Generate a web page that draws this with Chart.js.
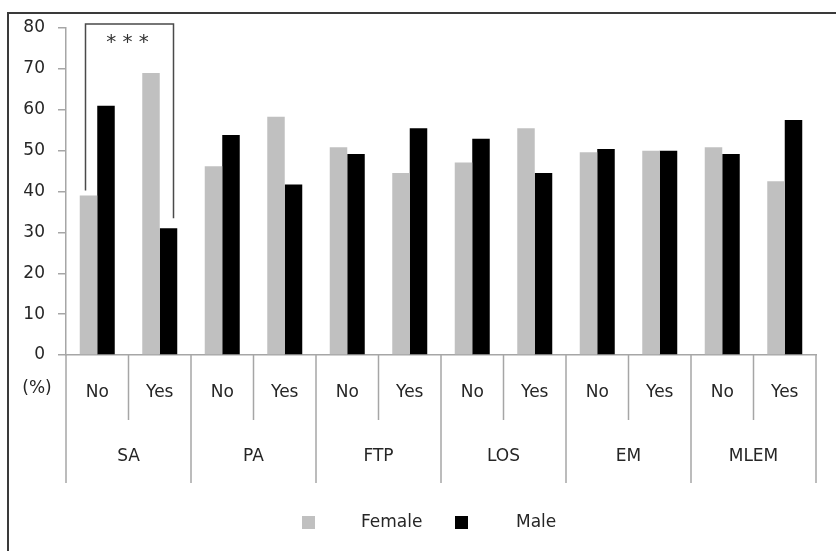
<!DOCTYPE html>
<html>
<head>
<meta charset="utf-8">
<script src="https://cdn.jsdelivr.net/npm/chart.js@4.4.1/dist/chart.umd.min.js"></script>
<style>
  html, body { margin: 0; padding: 0; background: #fff; overflow: hidden; }
  #wrap { position: relative; width: 836px; height: 551px; }
</style>
</head>
<body>
<div id="wrap"><canvas id="c" width="836" height="551"></canvas></div>
<script>
// Factor groups and the answer under each group
const groups = ['SA', 'PA', 'FTP', 'LOS', 'EM', 'MLEM'];
const categories = ['No', 'Yes', 'No', 'Yes', 'No', 'Yes', 'No', 'Yes', 'No', 'Yes', 'No', 'Yes'];

// Share of each sex within every answer (%)
const female = [39.0, 69.0, 46.2, 58.3, 50.8, 44.5, 47.1, 55.5, 49.6, 50.0, 50.8, 42.5];
const male   = [61.0, 31.0, 53.8, 41.7, 49.2, 55.5, 52.9, 44.5, 50.4, 50.0, 49.2, 57.5];

const yTicks = [0, 10, 20, 30, 40, 50, 60, 70, 80];
const seriesNames = ['Female', 'Male'];
const significance = '* * *';

const FONT = 'DejaVu Sans';
const TEXT = '#262626';
const AXIS = '#a6a6a6';

const decor = {
  id: 'decor',
  beforeDraw(chart) {
    const ctx = chart.ctx;
    ctx.save();
    // outer frame
    ctx.strokeStyle = '#3a3a3a';
    ctx.lineWidth = 2;
    ctx.beginPath();
    ctx.moveTo(8, 560);
    ctx.lineTo(8, 13);
    ctx.lineTo(850, 13);
    ctx.stroke();
    ctx.restore();
  },
  afterDraw(chart) {
    const ctx = chart.ctx;
    const xs = chart.scales.x;
    const ys = chart.scales.y;
    const base = ys.getPixelForValue(0);
    const half = (xs.getPixelForValue(1) - xs.getPixelForValue(0)) / 2;
    ctx.save();

    // category separators below the axis
    ctx.strokeStyle = AXIS;
    ctx.lineWidth = 1.5;
    for (let i = 0; i <= categories.length; i++) {
      const x = xs.getPixelForValue(0) - half + i * 2 * half;
      const len = (i % 2 === 0) ? 128 : 65;
      ctx.beginPath();
      ctx.moveTo(x, base);
      ctx.lineTo(x, base + len);
      ctx.stroke();
    }

    // group names
    ctx.fillStyle = TEXT;
    ctx.font = '17px "' + FONT + '"';
    ctx.textAlign = 'center';
    ctx.textBaseline = 'middle';
    groups.forEach((g, k) => {
      const x = (xs.getPixelForValue(2 * k) + xs.getPixelForValue(2 * k + 1)) / 2;
      ctx.fillText(g, x, base + 102);
    });

    // unit label
    ctx.fillText('(%)', 37, base + 34);

    // significance bracket over the first group
    const fBar = chart.getDatasetMeta(0).data[0];
    const mBar = chart.getDatasetMeta(1).data[1];
    const top = chart.chartArea.top - 4;
    const xl = fBar.x - 3;
    const xr = mBar.x + 5;
    ctx.strokeStyle = '#4a4a4a';
    ctx.lineWidth = 1.5;
    ctx.beginPath();
    ctx.moveTo(xl, fBar.y - 5);
    ctx.lineTo(xl, top);
    ctx.lineTo(xr, top);
    ctx.lineTo(xr, mBar.y - 10);
    ctx.stroke();
    ctx.font = '20px "' + FONT + '"';
    ctx.fillStyle = '#333';
    ctx.fillText(significance, (xl + xr) / 2 - 2, top + 19);

    // legend
    const ds = chart.data.datasets;
    const entries = [{ box: 302, text: 361 }, { box: 455, text: 516 }];
    ctx.font = '17px "' + FONT + '"';
    ctx.textAlign = 'left';
    entries.forEach((e, i) => {
      ctx.fillStyle = ds[i].backgroundColor;
      ctx.fillRect(e.box, 516, 13, 13);
      ctx.fillStyle = TEXT;
      ctx.fillText(seriesNames[i], e.text, 523);
    });
    ctx.restore();
  }
};

new Chart(document.getElementById('c'), {
  type: 'bar',
  data: {
    labels: categories,
    datasets: [
      { label: seriesNames[0], data: female, backgroundColor: '#c0c0c0', borderWidth: 0 },
      { label: seriesNames[1], data: male, backgroundColor: '#000000', borderWidth: 0 }
    ]
  },
  options: {
    responsive: false,
    animation: false,
    devicePixelRatio: 1,
    layout: { padding: { top: 28, right: 20, bottom: 0, left: 0 } },
    datasets: { bar: { categoryPercentage: 0.56, barPercentage: 1.0 } },
    plugins: { legend: { display: false }, tooltip: { enabled: false } },
    scales: {
      x: {
        type: 'category',
        offset: true,
        grid: { display: false, drawTicks: false, tickLength: 0 },
        border: { display: true, color: AXIS, width: 1.5 },
        ticks: { color: TEXT, font: { family: FONT, size: 17 }, padding: 27, maxRotation: 0, autoSkip: false },
        afterFit(s) { s.height = 196; }
      },
      y: {
        min: 0,
        max: 80,
        afterBuildTicks(s) { s.ticks = yTicks.map(v => ({ value: v })); },
        grid: { drawOnChartArea: false, drawTicks: true, tickLength: 8, color: AXIS, lineWidth: 1.5 },
        border: { display: true, color: AXIS, width: 1.5 },
        ticks: { color: TEXT, font: { family: FONT, size: 17 }, padding: 13 },
        afterFit(s) { s.width = 66; }
      }
    }
  },
  plugins: [decor]
});
</script>
</body>
</html>
